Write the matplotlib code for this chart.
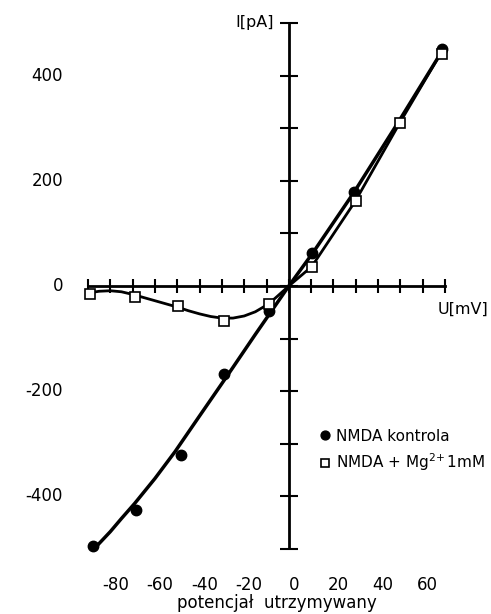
import numpy as np
import matplotlib
matplotlib.use("Agg")
import matplotlib.pyplot as plt
import matplotlib.transforms as mtransforms

plt.rcParams['font.family'] = ['DejaVu Sans']
plt.rcParams['mathtext.fontset'] = 'dejavusans'
plt.rcParams['mathtext.default'] = 'regular'

# ── measured points ───────────────────────────────────────────────────────
ctrl_u = [-87.6, -68.3, -48.2, -28.9, -8.8, 10.6, 29.2, 68.5]
ctrl_i = [-495, -426, -322, -167, -47, 62, 178, 450]

mg_u = [-89.0, -69.0, -49.7, -28.9, -8.8, 10.3, 29.9, 49.7, 68.6]
mg_i = [-15, -21, -38, -66, -34, 37, 162, 310, 442]

# ── hand drawn fit curves ────────────────────────────────────────────────
ctrl_fit_u = [-86, -80, -75, -69, -60, -51, -40, -27, -15, 0, 10.6, 29.2, 49, 68.6]
ctrl_fit_i = [-494, -467, -442, -413, -366, -315, -247, -167, -92, 0, 62, 178, 311, 446]

mg_fit_u = [-88, -85, -80, -75, -70, -65, -60, -55, -50, -45, -40, -35, -30,
            -25, -20, -15, -9, -5, 0, 10.3, 29.9, 49.7, 68.6]
mg_fit_i = [-12, -10, -9, -11, -16, -22, -28, -34, -40, -47, -53, -58, -61,
            -61, -57, -49, -34, -19, 0, 37, 162, 310, 446]

x_ticks = np.arange(-90, 71, 10)
y_ticks = np.arange(-500, 501, 100)
x_labels = [-80, -60, -40, -20, 0, 20, 40, 60]
y_labels = [400, 200, 0, -200, -400]

fig = plt.figure(figsize=(4.91, 6.14), dpi=100)
ax = fig.add_axes([88 / 491, 65 / 614, 357 / 491, 526 / 614])
ax.set_xlim(-90, 70)
ax.set_ylim(-497, 500)

for s in ["top", "right"]:
    ax.spines[s].set_visible(False)
ax.spines["left"].set_position(("data", 0))
ax.spines["bottom"].set_position(("data", 0))
ax.spines["left"].set_linewidth(2)
ax.spines["bottom"].set_linewidth(2)
ax.spines["left"].set_bounds(-497, 500)

ax.set_xticks(x_ticks)
ax.set_yticks(y_ticks)
ax.tick_params(axis="x", direction="inout", length=9.5, width=1.5,
               labelbottom=False)
ax.tick_params(axis="y", direction="inout", length=13.5, width=1.5,
               labelleft=False)

# curves
ax.plot(ctrl_fit_u, ctrl_fit_i, color="black", lw=2.5, clip_on=False,
        solid_capstyle="round", zorder=3)
ax.plot(mg_fit_u, mg_fit_i, color="black", lw=2.0, clip_on=False,
        solid_capstyle="round", zorder=3)

# markers
ax.plot(ctrl_u, ctrl_i, "o", color="black", ms=7.5, clip_on=False, zorder=4,
        label="NMDA kontrola")
ax.plot(mg_u, mg_i, "s", mfc="white", mec="black", mew=1.2, ms=6.5,
        clip_on=False, zorder=5, label=r"NMDA + Mg$^{2\!+}$1mM")

# tick labels placed away from the crossed axes
off = mtransforms.ScaledTranslation(5 / 100, 0, fig.dpi_scale_trans)
for v in x_labels:
    ax.text(v, -0.068, str(v), transform=ax.get_xaxis_transform() + off,
            ha="center", va="center", fontsize=12)
for v in y_labels:
    ax.text(-0.07, v, str(v), transform=ax.get_yaxis_transform(),
            ha="right", va="center", fontsize=12)

fig.text(277 / 491, 1 - 603 / 614, "potencjał  utrzymywany", ha="center",
         va="center", fontsize=12)
fig.text(274 / 491, 1 - 22 / 614, "I[pA]", ha="right", va="center",
         fontsize=11.5)
fig.text(438 / 491, 1 - 309 / 614, "U[mV]", ha="left", va="center",
         fontsize=11.5)

leg = ax.legend(loc="upper left", bbox_to_anchor=(313 / 491, 1 - 421 / 614),
                bbox_transform=fig.transFigure, frameon=False, fontsize=11,
                handlelength=0.6, handletextpad=0.4, borderpad=0,
                labelspacing=0.5, markerscale=0.85)

fig.savefig("out.png", dpi=100)
